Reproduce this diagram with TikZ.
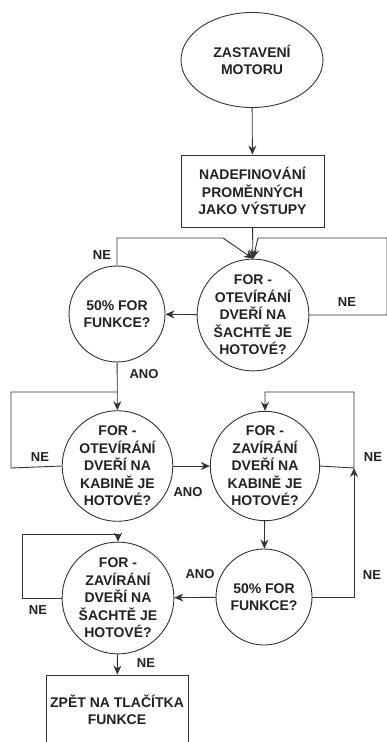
\documentclass[tikz,border=0pt]{standalone}
\usepackage{fontspec}
\setmainfont{Liberation Sans}
\usetikzlibrary{arrows.meta,shapes.geometric}
\definecolor{ink}{HTML}{222222}
\definecolor{wire}{HTML}{333333}
\begin{document}
\begin{tikzpicture}[x=1pt,y=-1pt,
  txt/.style={font=\bfseries\fontsize{14}{17.5}\selectfont,text=ink,align=center,inner sep=0pt},
  shp/.style={txt,draw=wire,line width=0.9pt},
  oval/.style={shp,ellipse,minimum width=142pt,minimum height=95pt},
  box/.style={shp,rectangle,minimum width=143pt},
  dec/.style={shp,circle,minimum size=106pt},
  dsm/.style={shp,circle,minimum size=96pt},
  wire/.style={draw=wire,line width=0.9pt},
  arr/.style={wire,-{Stealth[length=9pt,width=8pt]}},
  lbl/.style={font=\bfseries\fontsize{13}{15}\selectfont,text=ink,inner sep=0pt}]
\useasboundingbox (0,0) rectangle (386,742);
\fill[white] (0,0) rectangle (386,742);

% process nodes
\node[oval] (start) at (252,60) {ZASTAVENÍ\\MOTORU};
\node[box,minimum height=72pt] (def) at (252.5,191) {NADEFINOVÁNÍ\\PROMĚNNÝCH\\JAKO VÝSTUPY};
\node[dec] (c1) at (253,315) {FOR -\\OTEVÍRÁNÍ\\DVEŘÍ NA\\ŠACHTĚ JE\\HOTOVÉ?};
\node[dsm] (c2) at (117,314) {50\% FOR\\FUNKCE?};
\node[dec] (c3) at (117.5,466) {FOR -\\OTEVÍRÁNÍ\\DVEŘÍ NA\\KABINĚ JE\\HOTOVÉ?};
\node[dec] (c4) at (265,466) {FOR -\\ZAVÍRÁNÍ\\DVEŘÍ NA\\KABINĚ JE\\HOTOVÉ?};
\node[dsm] (c5) at (264,597) {50\% FOR\\FUNKCE?};
\node[dec] (c6) at (118,598) {FOR -\\ZAVÍRÁNÍ\\DVEŘÍ NA\\ŠACHTĚ JE\\HOTOVÉ?};
\node[box,minimum width=142pt,minimum height=70pt] (end) at (117,710) {ZPĚT NA TLAČÍTKA\\FUNKCE};

% bend points
\coordinate (r1a) at (387,315);
\coordinate (r1b) at (387,238);
\coordinate (r1c) at (258,238);
\coordinate (l1) at (223,238);
\coordinate (l3) at (11,468);
\coordinate (j4) at (354,468);
\coordinate (t4) at (354,392);
\coordinate (l6) at (22,598);

% connectors
\draw[arr] (start) -- (def);
\draw[arr] (def) -- (c1);
\draw[arr] (c1.east) -- (r1a) -- (r1b) -- (r1c) -- (c1.north);
\draw[arr] (c1) -- (c2);
\draw[arr] (c2.north) |- (l1) -- (c1.north);
\draw[arr] (c2) -- (c3);
\draw[wire] (c3.west) -- (l3) |- (c3.north |- 0,392);
\draw[arr] (c3) -- (c4);
\draw[arr] (c4.east) -- (j4) -- (t4) -| (c4.north);
\draw[arr] (c5.east) -| (j4);
\draw[arr] (c4) -- (c5);
\draw[arr] (c5) -- (c6);
\draw[arr] (c6.west) -- (l6) |- (c6.north |- 0,534) -- (c6.north);
\draw[arr] (c6) -- (end);

% branch labels
\node[lbl] (n1) at (102,255) {NE};
\node[lbl] (n2) at (347,302) {NE};
\node[lbl] (a1) at (144,374) {ANO};
\node[lbl] (n3) at (40,457) {NE};
\node[lbl] (a2) at (188,492) {ANO};
\node[lbl] (n4) at (373,457) {NE};
\node[lbl] (a3) at (200,574) {ANO};
\node[lbl] (n5) at (372,575) {NE};
\node[lbl] (n6) at (38,610) {NE};
\node[lbl] (n7) at (146,663) {NE};
\end{tikzpicture}
\end{document}
